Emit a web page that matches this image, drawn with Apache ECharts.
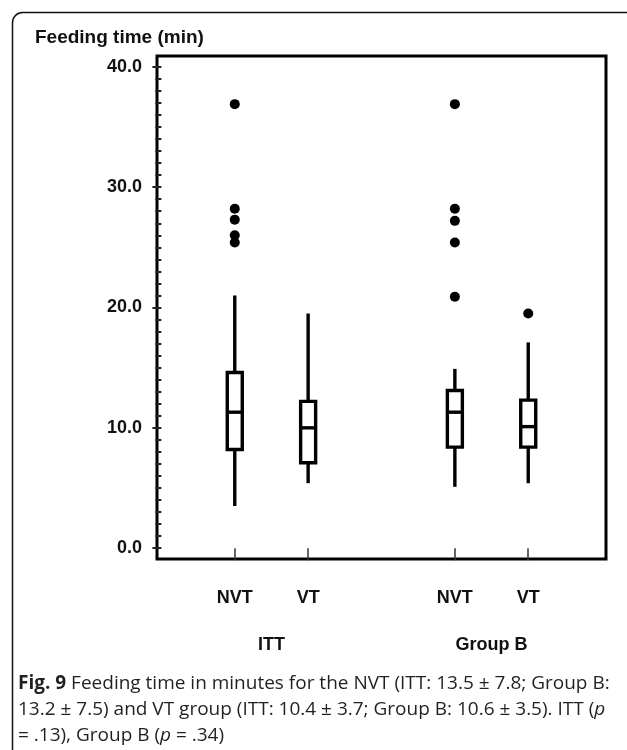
<!DOCTYPE html>
<html>
<head>
<meta charset="utf-8">
<script src="https://cdn.jsdelivr.net/npm/echarts@6/dist/echarts.min.js"></script>
<style>
  html, body { margin: 0; padding: 0; background: #fff; }
  #chart { width: 627px; height: 750px; }
</style>
</head>
<body>
<div id="chart"></div>
<script>
// box positions on the x scale and their labels
const positions = [1, 2, 4, 5];
const boxLabels = ['NVT', 'VT', 'NVT', 'VT'];
const groupCenters = [1.5, 4.5];
const groupNames = ['ITT', 'Group B'];

// box statistics (min whisker, Q1, median, Q3, max whisker)
const whiskerLow = [3.5, 5.4, 5.1, 5.4];
const q1 = [8.2, 7.1, 8.4, 8.4];
const median = [11.3, 10.0, 11.3, 10.1];
const q3 = [14.6, 12.2, 13.1, 12.3];
const whiskerHigh = [21.0, 19.5, 14.9, 17.1];

// outliers per box
const outliersIttNvt = [36.9, 28.2, 27.3, 26.0, 25.4];
const outliersIttVt = [];
const outliersBNvt = [36.9, 28.2, 27.2, 25.4, 20.9];
const outliersBVt = [19.5];

// y axis ticks
const yMajorTicks = [0, 10, 20, 30, 40];
const yMinorTicks = [];
for (let v = 0; v <= 40; v++) yMinorTicks.push(v);

const boxData = positions.map((p, i) => [p, whiskerLow[i], q1[i], median[i], q3[i], whiskerHigh[i]]);
const outlierData = [];
[outliersIttNvt, outliersIttVt, outliersBNvt, outliersBVt].forEach((arr, i) => {
    arr.forEach(v => outlierData.push([positions[i], v]));
});

const labelFont = 'Liberation Sans, Arial, sans-serif';
const capFont = 'Open Sans, sans-serif';
const capColor = '#231f20';

const chart = echarts.init(document.getElementById('chart'));
const option = {
    backgroundColor: '#fff',
    animation: false,
    title: {
        text: 'Feeding time (min)',
        left: 30,
        top: 23,
        textStyle: { fontFamily: labelFont, fontSize: 19, fontWeight: 'bold', color: '#111' }
    },
    grid: {
        left: 157, top: 56, right: 21, bottom: 191,
        show: true, borderColor: '#000', borderWidth: 3, backgroundColor: 'transparent'
    },
    xAxis: [{
        type: 'value', min: -0.06, max: 6.06,
        axisLine: { show: false },
        splitLine: { show: false },
        axisTick: { show: true, length: 12, customValues: positions, lineStyle: { color: '#333', width: 1.5 } },
        axisLabel: {
            customValues: positions,
            formatter: v => boxLabels[positions.indexOf(v)] || '',
            fontFamily: labelFont, fontSize: 18, fontWeight: 'bold', color: '#111', margin: 30
        }
    }, {
        type: 'value', min: -0.06, max: 6.06, position: 'bottom',
        axisLine: { show: false },
        splitLine: { show: false },
        axisTick: { show: false },
        axisLabel: {
            customValues: groupCenters,
            formatter: v => groupNames[groupCenters.indexOf(v)] || '',
            fontFamily: labelFont, fontSize: 18, fontWeight: 'bold', color: '#111', margin: 77
        }
    }],
    yAxis: [{
        type: 'value', min: -0.9, max: 40.9,
        axisLine: { show: false },
        splitLine: { show: false },
        axisTick: { show: true, length: 9, customValues: yMajorTicks, lineStyle: { color: '#222', width: 2 } },
        axisLabel: {
            customValues: yMajorTicks,
            formatter: v => v.toFixed(1),
            fontFamily: labelFont, fontSize: 18, fontWeight: 'bold', color: '#111', margin: 15
        }
    }, {
        type: 'value', min: -0.9, max: 40.9, position: 'left',
        axisLine: { show: false },
        splitLine: { show: false },
        axisLabel: { show: false },
        axisTick: { show: true, length: 6, customValues: yMinorTicks, lineStyle: { color: '#222', width: 2 } }
    }],
    series: [{
        type: 'custom',
        data: boxData,
        encode: { x: 0, y: [1, 2, 3, 4, 5] },
        renderItem: function (params, api) {
            const x = api.value(0);
            const lo = api.coord([x, api.value(1)]);
            const b1 = api.coord([x, api.value(2)]);
            const md = api.coord([x, api.value(3)]);
            const b3 = api.coord([x, api.value(4)]);
            const hi = api.coord([x, api.value(5)]);
            const hw = 7.5;
            const st = { stroke: '#000', lineWidth: 3.4, fill: null };
            return {
                type: 'group',
                children: [
                    { type: 'line', shape: { x1: lo[0], y1: lo[1], x2: b1[0], y2: b1[1] }, style: st },
                    { type: 'line', shape: { x1: b3[0], y1: b3[1], x2: hi[0], y2: hi[1] }, style: st },
                    { type: 'rect', shape: { x: b3[0] - hw, y: b3[1], width: hw * 2, height: b1[1] - b3[1] },
                      style: { fill: '#fff', stroke: '#000', lineWidth: 3.4 } },
                    { type: 'line', shape: { x1: md[0] - hw, y1: md[1], x2: md[0] + hw, y2: md[1] }, style: st }
                ]
            };
        }
    }, {
        type: 'scatter',
        data: outlierData,
        symbolSize: 10,
        itemStyle: { color: '#000', opacity: 1 }
    }],
    graphic: [{
        type: 'rect',
        left: 10, top: 10,
        shape: { x: 0, y: 0, width: 700, height: 800, r: 10 },
        style: { fill: null, stroke: '#111', lineWidth: 1.5 },
        silent: true
    }, {
        type: 'text', left: 18, top: 674,
        style: {
            text: '{b|Fig. 9} Feeding time in minutes for the NVT (ITT: 13.5 ± 7.8; Group B:',
            font: '19px ' + capFont, fill: capColor,
            rich: { b: { fontFamily: capFont, fontSize: 19, fontWeight: 'bold', color: capColor } }
        }
    }, {
        type: 'text', left: 18, top: 700,
        style: {
            text: '13.2 ± 7.5) and VT group (ITT: 10.4 ± 3.7; Group B: 10.6 ± 3.5). ITT ({i|p}',
            font: '19px ' + capFont, fill: capColor,
            rich: { i: { fontFamily: capFont, fontSize: 19, fontStyle: 'italic', color: capColor } }
        }
    }, {
        type: 'text', left: 18, top: 726,
        style: {
            text: '= .13), Group B ({i|p} = .34)',
            font: '19px ' + capFont, fill: capColor,
            rich: { i: { fontFamily: capFont, fontSize: 19, fontStyle: 'italic', color: capColor } }
        }
    }]
};
chart.setOption(option);
</script>
</body>
</html>
